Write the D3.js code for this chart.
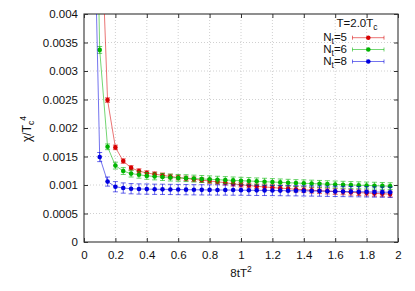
<!DOCTYPE html>
<html>
<head>
<meta charset="utf-8">
<script src="https://cdn.jsdelivr.net/npm/d3@7"></script>
<style>
  html, body { margin: 0; padding: 0; background: #fff; }
  svg { display: block; }
  text { font-family: "Liberation Sans", Arial, sans-serif; fill: #111; }
</style>
</head>
<body>
<svg id="chart" width="415" height="291"></svg>
<script>
// ---------------- data ----------------
const xs8 = [0.05,0.10,0.15,0.20,0.25,0.30,0.35,0.40,0.45,0.50,0.55,0.60,0.65,0.70,0.75,0.80,0.85,0.90,0.95,1.00,1.05,1.10,1.15,1.20,1.25,1.30,1.35,1.40,1.45,1.50,1.55,1.60,1.65,1.70,1.75,1.80,1.85,1.90,1.95];
const nt8 = [0.0077,0.00149,0.00106,0.00097,0.000947,0.000935,0.00093,0.000928,0.000925,0.000924,0.000922,0.00092,0.000918,0.000916,0.000915,0.000914,0.000913,0.000912,0.000911,0.00091,0.000908,0.000906,0.000905,0.000904,0.000902,0.0009,0.000899,0.000897,0.000895,0.000893,0.00089,0.000888,0.000886,0.000884,0.000882,0.00088,0.000877,0.000875,0.000872];
const err8 = [0.0001,0.00008,0.00008,0.00009,0.00009,0.00009,0.00009,0.00009,0.00009,0.00009,0.00009,0.00009,0.00009,0.00009,0.00009,0.00009,0.00009,0.00009,0.00009,0.00009,0.00009,0.00009,0.00009,0.00009,0.00009,0.00009,0.00009,0.00009,0.00009,0.00009,0.00009,0.00009,0.00009,0.00009,0.00009,0.00009,0.00009,0.00009,0.00009];

const xs6 = [0.05,0.10,0.15,0.20,0.25,0.30,0.35,0.40,0.45,0.50,0.55,0.60,0.65,0.70,0.75,0.80,0.85,0.90,0.95,1.00,1.05,1.10,1.15,1.20,1.25,1.30,1.35,1.40,1.45,1.50,1.55,1.60,1.65,1.70,1.75,1.80,1.85,1.90,1.95];
const nt6 = [0.0105,0.00337,0.00167,0.00134,0.001245,0.0012,0.00118,0.00116,0.00115,0.00114,0.00113,0.001125,0.00112,0.001113,0.001106,0.0011,0.001093,0.001087,0.001081,0.001075,0.00107,0.001064,0.001058,0.001052,0.001046,0.00104,0.001034,0.00103,0.001025,0.00102,0.001015,0.00101,0.001005,0.001,0.000996,0.000992,0.000988,0.000984,0.00098];
const err6 = [0.00008,0.00006,0.00005,0.00006,0.00006,0.00006,0.00006,0.00006,0.00006,0.00006,0.00006,0.00006,0.00006,0.00006,0.00006,0.00006,0.00006,0.00006,0.00006,0.00006,0.00006,0.00006,0.00006,0.00006,0.00006,0.00006,0.00006,0.00006,0.00006,0.00006,0.00006,0.00006,0.00006,0.00006,0.00006,0.00006,0.00006,0.00006,0.00006];

const xs5 = [0.10,0.15,0.20,0.25,0.30,0.35,0.40,0.45,0.50,0.55,0.60,0.65,0.70,0.75,0.80,0.85,0.90,0.95,1.00,1.05,1.10,1.15,1.20,1.25,1.30,1.35,1.40,1.45,1.50,1.55,1.60,1.65,1.70,1.75,1.80,1.85,1.90,1.95];
const nt5 = [0.0063,0.00249,0.00166,0.00142,0.0013,0.001245,0.00121,0.00119,0.00117,0.00115,0.00113,0.001115,0.0011,0.001085,0.00107,0.001055,0.00104,0.00102,0.001005,0.00099,0.000978,0.000966,0.000955,0.000945,0.000936,0.000926,0.000917,0.000908,0.0009,0.000893,0.000886,0.00088,0.000873,0.000866,0.00086,0.000853,0.000846,0.00084];
const err5 = [0.00006,0.00004,0.00004,0.00004,0.00004,0.00004,0.00004,0.00004,0.00004,0.00004,0.00004,0.00004,0.00004,0.00004,0.00004,0.00004,0.00004,0.00004,0.00004,0.00004,0.00004,0.00005,0.00005,0.00005,0.00005,0.00005,0.00005,0.00005,0.00005,0.00005,0.00005,0.00005,0.00005,0.00005,0.00005,0.00005,0.00005,0.00005];

const seriesNames = ["5", "6", "8"];
const seriesColors = ["#d80000", "#00b400", "#0000e0"];

const xTicks = [0,0.2,0.4,0.6,0.8,1,1.2,1.4,1.6,1.8,2];
const xTickLabels = ["0","0.2","0.4","0.6","0.8","1","1.2","1.4","1.6","1.8","2"];
const yTicks = [0,0.0005,0.001,0.0015,0.002,0.0025,0.003,0.0035,0.004];
const yTickLabels = ["0","0.0005","0.001","0.0015","0.002","0.0025","0.003","0.0035","0.004"];

// ---------------- layout ----------------
const L = 84, R = 398, T = 14, B = 242;
const svg = d3.select("#chart");
const x = d3.scaleLinear().domain([0, 2]).range([L, R]);
const y = d3.scaleLinear().domain([0, 0.004]).range([B, T]);

// grid
const grid = svg.append("g");
grid.selectAll("line.gx").data(xTicks.slice(1, -1)).enter().append("line")
  .attr("x1", d => x(d)).attr("x2", d => x(d)).attr("y1", T).attr("y2", B)
  .attr("stroke", "#c4c4c4").attr("stroke-width", 0.8).attr("stroke-dasharray", "1,2");
grid.selectAll("line.gy").data(yTicks.slice(1, -1)).enter().append("line")
  .attr("x1", L).attr("x2", R).attr("y1", d => y(d)).attr("y2", d => y(d))
  .attr("stroke", "#c4c4c4").attr("stroke-width", 0.8).attr("stroke-dasharray", "1,2");

// axes
const fmtX = d => xTickLabels[xTicks.indexOf(d)];
const fmtY = d => yTickLabels[yTicks.indexOf(d)];
const axB = svg.append("g").attr("transform", `translate(0,${B})`)
  .call(d3.axisBottom(x).tickValues(xTicks).tickFormat(fmtX).tickSize(-4).tickPadding(8.5));
const axL = svg.append("g").attr("transform", `translate(${L},0)`)
  .call(d3.axisLeft(y).tickValues(yTicks).tickFormat(fmtY).tickSize(-4).tickPadding(6));
const axT = svg.append("g").attr("transform", `translate(0,${T})`)
  .call(d3.axisTop(x).tickValues(xTicks).tickFormat("").tickSize(-4));
const axR = svg.append("g").attr("transform", `translate(${R},0)`)
  .call(d3.axisRight(y).tickValues(yTicks).tickFormat("").tickSize(-4));
[axB, axL, axT, axR].forEach(g => {
  g.select(".domain").remove();
  g.selectAll(".tick line").attr("stroke", "#333").attr("stroke-width", 1);
  g.selectAll("text").attr("font-size", 11.5).attr("fill", "#111")
    .attr("font-family", '"Liberation Sans", Arial, sans-serif');
});
svg.append("rect").attr("x", L).attr("y", T).attr("width", R - L).attr("height", B - T)
  .attr("fill", "none").attr("stroke", "#333").attr("stroke-width", 1.1);

// clip
svg.append("clipPath").attr("id", "clip").append("rect")
  .attr("x", L).attr("y", T).attr("width", R - L).attr("height", B - T);

const allSeries = [
  {xs: xs5, ys: nt5, es: err5},
  {xs: xs6, ys: nt6, es: err6},
  {xs: xs8, ys: nt8, es: err8}
];

const plot = svg.append("g").attr("clip-path", "url(#clip)");
const line = d3.line().x(d => x(d[0])).y(d => y(d[1]));
allSeries.forEach((s, i) => {
  const col = seriesColors[i];
  const pts = s.xs.map((xv, j) => [xv, s.ys[j], s.es[j]]);
  const g = plot.append("g");
  g.append("path").datum(pts).attr("d", line).attr("fill", "none")
    .attr("stroke", col).attr("stroke-width", 1).attr("stroke-opacity", 0.55);
  const eb = g.selectAll("g.eb").data(pts).enter().append("g")
    .attr("stroke", col).attr("stroke-width", 1).attr("stroke-opacity", 0.6);
  eb.append("line").attr("x1", d => x(d[0])).attr("x2", d => x(d[0]))
    .attr("y1", d => y(d[1] - d[2])).attr("y2", d => y(d[1] + d[2]));
  eb.append("line").attr("x1", d => x(d[0]) - 2.5).attr("x2", d => x(d[0]) + 2.5)
    .attr("y1", d => y(d[1] - d[2])).attr("y2", d => y(d[1] - d[2]));
  eb.append("line").attr("x1", d => x(d[0]) - 2.5).attr("x2", d => x(d[0]) + 2.5)
    .attr("y1", d => y(d[1] + d[2])).attr("y2", d => y(d[1] + d[2]));
  g.selectAll("circle").data(pts).enter().append("circle")
    .attr("cx", d => x(d[0])).attr("cy", d => y(d[1])).attr("r", 2.3).attr("fill", col);
});

// axis labels
const xl = svg.append("text").attr("x", 241).attr("y", 277).attr("text-anchor", "middle")
  .attr("font-size", 11.5);
xl.append("tspan").text("8tT");
xl.append("tspan").attr("dy", -5).attr("font-size", 8.5).text("2");

const yl = svg.append("text").attr("transform", "translate(31,129) rotate(-90)")
  .attr("text-anchor", "middle").attr("font-size", 12);
yl.append("tspan").text("χ/T");
yl.append("tspan").attr("dy", 3).attr("font-size", 8.5).text("c");
yl.append("tspan").attr("dy", -8).attr("font-size", 8.5).text("4");

// legend
const lt = svg.append("text").attr("x", 336.5).attr("y", 26.5).attr("font-size", 11.5);
lt.append("tspan").text("T=2.0T");
lt.append("tspan").attr("dy", 3).attr("font-size", 8.5).text("c");

const legY = [37.7, 49.5, 61.5];
seriesNames.forEach((n, i) => {
  const col = seriesColors[i];
  const yy = legY[i];
  const t = svg.append("text").attr("x", 347).attr("y", yy + 3.5).attr("text-anchor", "end")
    .attr("font-size", 11.5);
  t.append("tspan").text("N");
  t.append("tspan").attr("dy", 3).attr("font-size", 8.5).text("t");
  t.append("tspan").attr("dy", -3).text("=" + n);
  const g = svg.append("g").attr("stroke", col).attr("stroke-width", 1).attr("stroke-opacity", 0.55);
  g.append("line").attr("x1", 352.5).attr("x2", 384).attr("y1", yy).attr("y2", yy);
  g.append("line").attr("x1", 352.5).attr("x2", 352.5).attr("y1", yy - 2).attr("y2", yy + 2);
  g.append("line").attr("x1", 384).attr("x2", 384).attr("y1", yy - 2).attr("y2", yy + 2);
  svg.append("circle").attr("cx", 368.3).attr("cy", yy).attr("r", 2.3).attr("fill", col);
});
</script>
</body>
</html>
